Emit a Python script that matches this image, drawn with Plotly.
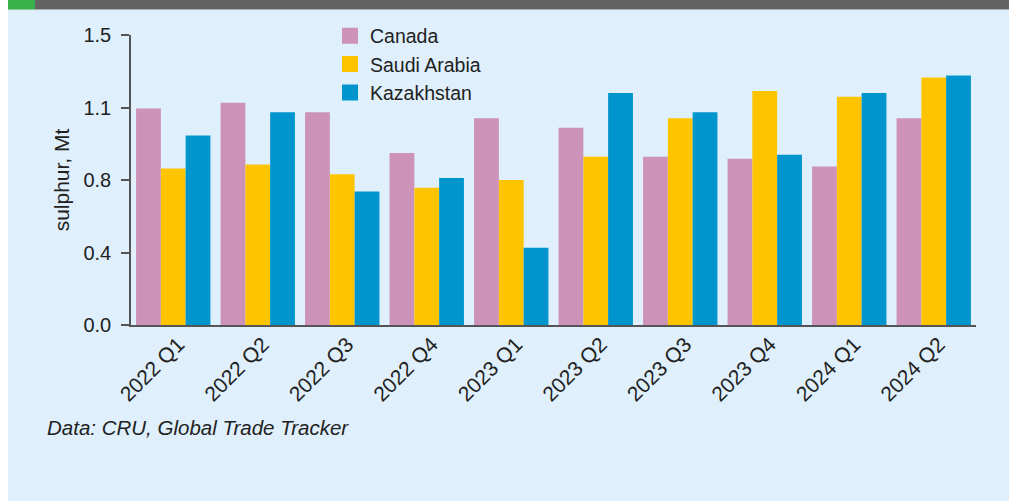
import plotly.graph_objects as go

quarters = ["2022 Q1", "2022 Q2", "2022 Q3", "2022 Q4", "2023 Q1",
            "2023 Q2", "2023 Q3", "2023 Q4", "2024 Q1", "2024 Q2"]
canada = [1.12, 1.15, 1.10, 0.89, 1.07, 1.02, 0.87, 0.86, 0.82, 1.07]
saudi = [0.81, 0.83, 0.78, 0.71, 0.75, 0.87, 1.07, 1.21, 1.18, 1.28]
kazakhstan = [0.98, 1.10, 0.69, 0.76, 0.40, 1.20, 1.10, 0.88, 1.20, 1.29]
series_names = ["Canada", "Saudi Arabia", "Kazakhstan"]
colors = ["#cc92b8", "#fec400", "#0095cd"]
y_tickvals = [0, 0.375, 0.75, 1.125, 1.5]
y_ticktext = ["0.0", "0.4", "0.8", "1.1", "1.5"]

W, H = 1009, 501
L, R, T, B = 131, 976, 34.5, 325.5
FONT = "Liberation Sans, Arial, sans-serif"


def px(x):
    return (x - L) / (R - L)


def py(y):
    return (B - y) / (B - T)


fig = go.Figure()
for name, vals, col in zip(series_names, [canada, saudi, kazakhstan], colors):
    fig.add_trace(go.Bar(x=quarters, y=vals, name=name, marker_color=col,
                         marker_line_width=0, showlegend=False, legendgroup=name))
    fig.add_trace(go.Scatter(x=[None], y=[None], mode="markers", name=name,
                             legendgroup=name,
                             marker=dict(symbol="square", size=16, color=col)))

shapes = [
    dict(type="rect", xref="paper", yref="paper", x0=px(8), x1=px(W + 5),
         y0=py(9), y1=py(H + 5), fillcolor="#dff0fc", line_width=0, layer="below"),
    dict(type="rect", xref="paper", yref="paper", x0=px(35), x1=px(W + 5),
         y0=py(-5), y1=py(9), fillcolor="#636363", line_width=0, layer="below"),
    dict(type="rect", xref="paper", yref="paper", x0=px(8), x1=px(35),
         y0=py(-5), y1=py(9), fillcolor="#38b14a", line_width=0, layer="below"),
]

fig.update_layout(
    width=W, height=H,
    margin=dict(l=L, r=W - R, t=T, b=H - B, autoexpand=False),
    paper_bgcolor="white", plot_bgcolor="rgba(0,0,0,0)",
    barmode="group", bargap=0.12, bargroupgap=0,
    font=dict(family=FONT, size=20, color="#222222"),
    shapes=shapes,
    legend=dict(x=px(330), y=py(16), xanchor="left", yanchor="top",
                bgcolor="rgba(0,0,0,0)", font=dict(size=19.5, color="#222222"),
                tracegroupgap=0),
    xaxis=dict(type="category", tickangle=-45, showline=True, linecolor="#555555",
               linewidth=1.5, ticks="", showgrid=False, zeroline=False,
               tickfont=dict(size=21), ticklabelshift=5, ticklabelstandoff=-3),
    yaxis=dict(range=[0, 1.5], tickvals=y_tickvals, ticktext=y_ticktext,
               showline=True, linecolor="#555555", linewidth=1.5, ticks="outside",
               ticklen=8, tickcolor="#555555", tickwidth=1.5, showgrid=False,
               zeroline=False, ticklabelstandoff=6,
               title=dict(text="sulphur, Mt", font=dict(size=21), standoff=8)),
    annotations=[dict(text="<i>Data: CRU, Global Trade Tracker</i>", xref="paper",
                      yref="paper", x=px(45), y=py(428), xanchor="left",
                      yanchor="middle", showarrow=False,
                      font=dict(size=20.5, color="#222222"))],
)

fig.write_html("out.html",
               config={"displayModeBar": False},
               post_script="document.body.style.margin='0';"
                           "document.body.style.overflow='hidden';")
